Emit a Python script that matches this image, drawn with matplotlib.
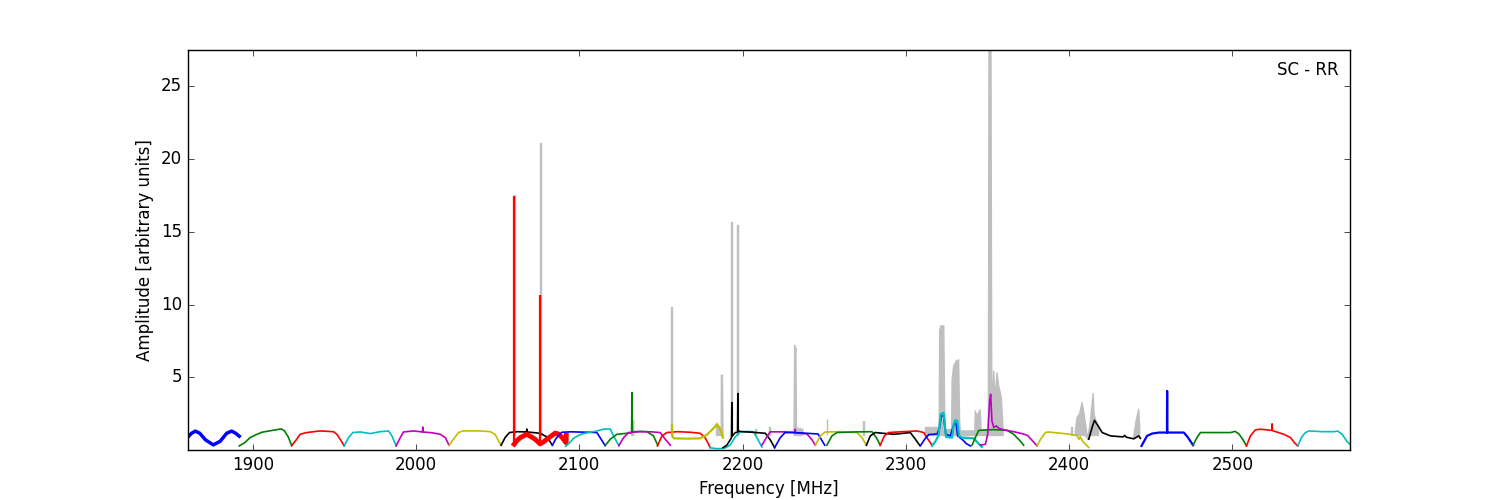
import numpy as np
import matplotlib
matplotlib.use('Agg')
import matplotlib.pyplot as plt

plt.style.use('classic')

#-----
# spectral window bandpasses (freq in MHz, amplitude in arbitrary units)
b1_f = [1860.0, 1862.5, 1864.8, 1867.5, 1871.0, 1875.8, 1880.0, 1884.0, 1887.0, 1889.5, 1891.7]
b1_a = [0.86, 1.15, 1.30, 1.15, 0.70, 0.35, 0.60, 1.15, 1.30, 1.15, 0.95]
g1_f = [1891.7, 1895.0, 1898.3, 1902.0, 1905.5, 1911.0, 1917.5, 1919.5, 1921.7, 1923.8]
g1_a = [0.28, 0.50, 0.85, 1.05, 1.22, 1.33, 1.45, 1.30, 0.90, 0.30]
r1_f = [1923.8, 1926.9, 1929.0, 1933.0, 1941.2, 1949.4, 1951.5, 1953.5, 1956.0]
r1_a = [0.30, 0.74, 1.08, 1.20, 1.31, 1.26, 1.08, 0.74, 0.28]
c1_f = [1956.0, 1958.6, 1961.3, 1965.8, 1971.9, 1978.0, 1983.1, 1985.2, 1987.8]
c1_a = [0.28, 0.85, 1.20, 1.24, 1.13, 1.26, 1.31, 0.97, 0.28]
m1_f = [1987.8, 1990.3, 1992.3, 1998.5, 2003.9, 2004.1, 2004.3, 2010.0, 2014.8, 2017.9, 2020.2]
m1_a = [0.28, 0.85, 1.24, 1.31, 1.24, 1.58, 1.24, 1.18, 1.08, 0.85, 0.33]
y1_f = [2020.2, 2022.9, 2026.0, 2028.7, 2039.2, 2045.4, 2048.4, 2050.5, 2052.1]
y1_a = [0.33, 0.74, 1.20, 1.31, 1.31, 1.26, 1.08, 0.62, 0.33]
k1_f = [2052.1, 2054.5, 2057.2, 2061.7, 2067.6, 2067.8, 2068.0, 2076.0, 2080.1, 2083.5]
k1_a = [0.33, 0.85, 1.20, 1.26, 1.24, 1.45, 1.24, 1.15, 0.90, 0.33]
r2_f = [2060.1, 2061.5, 2063.8, 2067.8, 2070.3, 2072.9, 2076.0, 2078.0, 2080.1, 2083.0, 2085.2, 2087.2, 2089.5, 2091.9, 2092.0]
r2_a = [0.40, 0.62, 0.85, 1.08, 0.92, 0.74, 0.42, 0.55, 0.74, 0.98, 1.16, 1.10, 0.85, 0.50, 1.00]
r2_spike_f = [2060.1, 2076.0]
r2_spike_a = [17.45, 10.65]
b2_f = [2083.5, 2085.5, 2087.2, 2089.3, 2095.0, 2105.0, 2110.7, 2113.0, 2115.8]
b2_a = [0.33, 0.75, 1.00, 1.22, 1.25, 1.22, 1.20, 0.80, 0.30]
c2_f = [2091.5, 2094.0, 2096.4, 2099.5, 2102.5, 2106.5, 2110.7, 2114.8, 2118.9, 2121.0, 2122.7, 2124.2]
c2_a = [0.25, 0.50, 0.80, 1.00, 1.13, 1.22, 1.31, 1.43, 1.45, 0.97, 0.60, 0.30]
g2_f = [2115.8, 2118.9, 2123.0, 2129.1, 2132.0, 2132.2, 2132.4, 2137.0, 2141.4, 2145.4, 2148.0]
g2_a = [0.30, 0.74, 1.08, 1.15, 1.18, 3.95, 1.25, 1.28, 1.26, 0.97, 0.33]
m2_f = [2124.2, 2127.1, 2130.1, 2137.3, 2144.0, 2149.5, 2152.6, 2155.7]
m2_a = [0.30, 0.85, 1.20, 1.26, 1.25, 1.20, 0.74, 0.33]
r3_f = [2147.8, 2150.6, 2153.6, 2160.0, 2168.0, 2174.0, 2177.1, 2180.2]
r3_a = [0.28, 0.97, 1.20, 1.26, 1.22, 1.15, 0.84, 0.16]
y2_f = [2156.7, 2157.0, 2158.0, 2166.0, 2174.0, 2178.1, 2182.2, 2184.3, 2186.3, 2188.0]
y2_a = [1.70, 0.92, 0.80, 0.78, 0.80, 1.04, 1.50, 1.76, 1.42, 0.84]
c3_f = [2180.2, 2183.0, 2186.3, 2189.5, 2192.4, 2195.5, 2198.6, 2203.0, 2206.7, 2208.8, 2211.8]
c3_a = [0.16, 0.10, 0.09, 0.15, 0.34, 0.90, 1.25, 1.28, 1.25, 0.84, 0.21]
k2_f = [2188.0, 2190.4, 2192.4, 2193.2, 2193.4, 2193.6, 2195.5, 2196.9, 2197.1, 2197.3, 2199.5, 2206.0, 2213.9, 2216.9, 2219.6]
k2_a = [0.16, 0.34, 0.70, 0.85, 3.26, 0.95, 1.20, 1.22, 3.88, 1.30, 1.26, 1.22, 1.15, 0.70, 0.16]
m3_f = [2211.8, 2214.9, 2216.9, 2224.0, 2232.0, 2232.2, 2232.4, 2239.4, 2242.5, 2244.5]
m3_a = [0.33, 0.92, 1.25, 1.25, 1.22, 1.42, 1.20, 1.10, 0.70, 0.33]
b3_f = [2219.6, 2223.0, 2226.0, 2235.0, 2246.2, 2248.3, 2250.3]
b3_a = [0.16, 0.84, 1.20, 1.18, 1.10, 0.70, 0.33]
y3_f = [2244.5, 2247.6, 2250.6, 2260.0, 2270.0, 2273.1, 2275.8]
y3_a = [0.33, 0.97, 1.24, 1.26, 1.20, 0.85, 0.33]
g3_f = [2251.6, 2254.7, 2257.8, 2268.0, 2279.2, 2281.9, 2284.3]
g3_a = [0.33, 0.97, 1.20, 1.24, 1.26, 0.85, 0.33]
k3_f = [2275.8, 2278.2, 2281.2, 2292.5, 2302.7, 2305.8, 2308.4]
k3_a = [0.33, 0.97, 1.20, 1.08, 1.20, 0.74, 0.33]
r4_f = [2284.3, 2286.8, 2289.4, 2298.0, 2306.8, 2310.9, 2313.5, 2316.0]
r4_a = [0.33, 0.97, 1.20, 1.26, 1.31, 1.20, 0.74, 0.33]
b4_f = [2308.8, 2311.5, 2314.0, 2319.1, 2320.7, 2321.7, 2323.1, 2324.4, 2327.2, 2328.5, 2329.9, 2330.8, 2331.7, 2334.4, 2337.0, 2339.5]
b4_a = [0.28, 0.74, 1.06, 1.10, 1.55, 2.34, 2.34, 1.10, 0.95, 1.45, 1.88, 1.80, 0.97, 0.74, 0.44, 0.28]
c4_f = [2316.0, 2318.1, 2320.0, 2321.3, 2323.1, 2324.6, 2328.3, 2329.3, 2330.3, 2331.5, 2332.6, 2334.4, 2341.5, 2343.9, 2346.6]
c4_a = [0.28, 0.60, 1.00, 2.46, 2.55, 0.90, 0.85, 1.77, 2.05, 2.00, 0.97, 0.85, 0.80, 0.51, 0.21]
g4_f = [2340.5, 2342.5, 2344.6, 2353.8, 2362.0, 2366.0, 2370.0, 2372.1]
g4_a = [0.33, 0.85, 1.35, 1.40, 1.35, 1.08, 0.62, 0.33]
m4_f = [2345.6, 2348.7, 2350.1, 2351.3, 2351.9, 2352.7, 2353.8, 2355.4, 2356.8, 2359.9, 2366.0, 2372.0, 2374.5, 2377.0, 2380.3]
m4_a = [0.33, 0.40, 1.08, 3.37, 3.83, 2.00, 1.55, 1.66, 1.50, 1.39, 1.26, 1.10, 1.00, 0.70, 0.28]
y4_f = [2380.3, 2382.5, 2385.4, 2387.0, 2395.0, 2400.7, 2404.7, 2406.0, 2406.8, 2408.5, 2410.0, 2412.0]
y4_a = [0.28, 0.74, 1.20, 1.24, 1.15, 1.08, 1.00, 0.74, 0.90, 0.55, 0.40, 0.17]
k4_f = [2412.0, 2414.0, 2415.5, 2417.8, 2420.2, 2425.3, 2433.0, 2434.0, 2435.0, 2439.5, 2442.6, 2443.6]
k4_a = [0.74, 1.54, 2.04, 1.65, 1.20, 0.97, 0.90, 1.00, 0.88, 0.77, 0.97, 0.80]
b5_f = [2444.3, 2447.7, 2450.8, 2455.0, 2459.9, 2460.0, 2460.1, 2470.2, 2472.5, 2475.9]
b5_a = [0.28, 0.97, 1.13, 1.20, 1.20, 4.06, 1.20, 1.20, 0.90, 0.33]
g5_f = [2475.9, 2478.5, 2480.4, 2490.0, 2498.8, 2501.7, 2504.0, 2506.5, 2508.6]
g5_a = [0.33, 0.90, 1.20, 1.20, 1.20, 1.28, 1.10, 0.70, 0.28]
r5_f = [2508.6, 2511.0, 2514.0, 2517.0, 2524.1, 2524.3, 2524.5, 2531.5, 2535.6, 2538.0, 2540.0]
r5_a = [0.28, 0.97, 1.38, 1.43, 1.35, 1.80, 1.33, 1.08, 0.85, 0.50, 0.28]
c5_f = [2540.0, 2542.5, 2544.7, 2547.0, 2555.0, 2562.0, 2564.5, 2567.2, 2570.0, 2571.9]
c5_a = [0.28, 0.90, 1.20, 1.31, 1.26, 1.26, 1.30, 1.08, 0.60, 0.40]

# raw (unflagged) amplitude, drawn in grey behind; 0 = no excess
gray_f = [2059.6, 2059.8, 2060.4, 2060.6,
          2075.4, 2075.6, 2076.4, 2076.6,
          2131.8, 2132.1, 2132.5, 2132.8, 2133.3, 2133.7,
          2156.1, 2156.3, 2157.0, 2157.2,
          2182.5, 2184.0, 2185.5, 2186.9, 2187.0, 2187.6, 2188.0, 2188.3,
          2192.8, 2193.0, 2193.7, 2193.9,
          2196.5, 2196.7, 2197.4, 2197.6,
          2207.3, 2207.5, 2207.9, 2208.1,
          2215.9, 2216.1, 2216.5, 2216.7,
          2231.2, 2231.5, 2231.9, 2232.2, 2232.6, 2233.0, 2233.6, 2234.0, 2235.0, 2235.3, 2236.5, 2236.8, 2237.2,
          2251.3, 2251.5, 2251.9, 2252.1,
          2273.7, 2273.9, 2274.3, 2274.5,
          2311.5, 2312.0, 2320.4, 2320.7, 2321.4, 2323.2, 2323.7, 2324.2, 2328.0, 2328.3, 2329.3, 2330.9,
          2332.3, 2332.9, 2333.3, 2342.2, 2342.5, 2343.5, 2344.2, 2345.5, 2346.0, 2350.5, 2350.9, 2352.1,
          2352.6, 2353.2, 2353.8, 2354.6, 2355.1, 2355.8, 2356.8, 2357.8, 2358.5, 2359.5, 2360.0,
          2401.0, 2401.3, 2401.7, 2402.0, 2403.8, 2404.8, 2406.4, 2407.9, 2408.8, 2410.0, 2411.3, 2412.0,
          2413.2, 2414.7, 2415.3, 2416.5, 2418.0, 2418.5,
          2439.0, 2439.5, 2441.0, 2442.6, 2443.2, 2443.6]
gray_a = [0, 17.5, 17.5, 0,
          0, 21.1, 21.1, 0,
          0, 1.6, 2.1, 1.7, 2.0, 0,
          0, 9.8, 9.8, 0,
          0, 1.85, 1.6, 1.5, 5.14, 5.14, 1.0, 0,
          0, 15.67, 15.67, 0,
          0, 15.5, 15.5, 0,
          0, 1.47, 1.47, 0,
          0, 1.55, 1.55, 0,
          0, 1.6, 7.2, 6.5, 7.0, 1.6, 1.3, 1.5, 1.3, 1.5, 1.3, 1.45, 0,
          0, 2.1, 2.1, 0,
          0, 2.0, 2.0, 0,
          0, 1.55, 1.55, 8.2, 8.53, 8.53, 3.0, 1.4, 1.4, 4.86, 5.78, 6.12,
          6.2, 2.0, 1.31, 1.31, 2.68, 2.3, 2.5, 2.76, 1.4, 1.4, 27.6, 27.6,
          4.0, 4.0, 5.43, 3.6, 4.2, 5.3, 4.4, 3.95, 3.5, 1.4, 0,
          0, 1.58, 1.58, 0, 1.31, 2.23, 2.5, 3.26, 2.7, 1.8, 0.76, 1.2,
          2.23, 3.88, 2.4, 2.0, 1.4, 0,
          0, 0.9, 2.0, 2.8, 1.5, 0]

xticks = [1900, 2000, 2100, 2200, 2300, 2400, 2500]
yticks = [5, 10, 15, 20, 25]
#-----

fig = plt.figure(figsize=(15, 5), dpi=100, facecolor='white')
ax = fig.add_subplot(111)

# grey only sits on top of the bandpass level, not down to zero
gray_a = np.array(gray_a)
gray_lo = np.minimum(gray_a, 1.0)
ax.fill_between(gray_f, gray_lo, gray_a, where=gray_a > 0, color='#bfbfbf',
                edgecolor='#bfbfbf', lw=1.0, zorder=1)

segs = [(b1_f, b1_a, 'b', 2.5), (g1_f, g1_a, 'g', 1.2), (r1_f, r1_a, 'r', 1.2),
        (c1_f, c1_a, 'c', 1.2), (m1_f, m1_a, 'm', 1.2), (y1_f, y1_a, 'y', 1.2),
        (k1_f, k1_a, 'k', 1.2), (r2_f, r2_a, 'r', 3.5), (b2_f, b2_a, 'b', 1.2),
        (c2_f, c2_a, 'c', 1.2), (g2_f, g2_a, 'g', 1.2), (m2_f, m2_a, 'm', 1.2),
        (r3_f, r3_a, 'r', 1.2), (y2_f, y2_a, 'y', 1.6), (c3_f, c3_a, 'c', 1.2),
        (k2_f, k2_a, 'k', 1.2), (m3_f, m3_a, 'm', 1.2), (b3_f, b3_a, 'b', 1.2),
        (y3_f, y3_a, 'y', 1.2), (g3_f, g3_a, 'g', 1.2), (k3_f, k3_a, 'k', 1.2),
        (r4_f, r4_a, 'r', 1.2), (b4_f, b4_a, 'b', 1.2), (c4_f, c4_a, 'c', 1.6),
        (g4_f, g4_a, 'g', 1.2), (m4_f, m4_a, 'm', 1.2), (y4_f, y4_a, 'y', 1.2),
        (k4_f, k4_a, 'k', 1.2), (b5_f, b5_a, 'b', 1.6), (g5_f, g5_a, 'g', 1.2),
        (r5_f, r5_a, 'r', 1.2), (c5_f, c5_a, 'c', 1.2)]

for f, a, col, lw in segs:
  ax.plot(f, a, color=col, lw=lw, zorder=2)
  if f is r2_f:
    base = np.interp(r2_spike_f, r2_f, r2_a)
    ax.vlines(r2_spike_f, base, r2_spike_a, color='r', lw=1.6, zorder=2)

ax.text(0.99, 0.95, 'SC - RR', ha='right', va='center', transform=ax.transAxes, fontsize=12)

ax.set_xlim(1860, 2572)
ax.set_ylim(0, 27.5)
ax.set_xticks(xticks)
ax.set_yticks(yticks)
ax.set_xlabel('Frequency [MHz]')
ax.set_ylabel('Amplitude [arbitrary units]')

plt.savefig('out.png', dpi=100, facecolor='white')
